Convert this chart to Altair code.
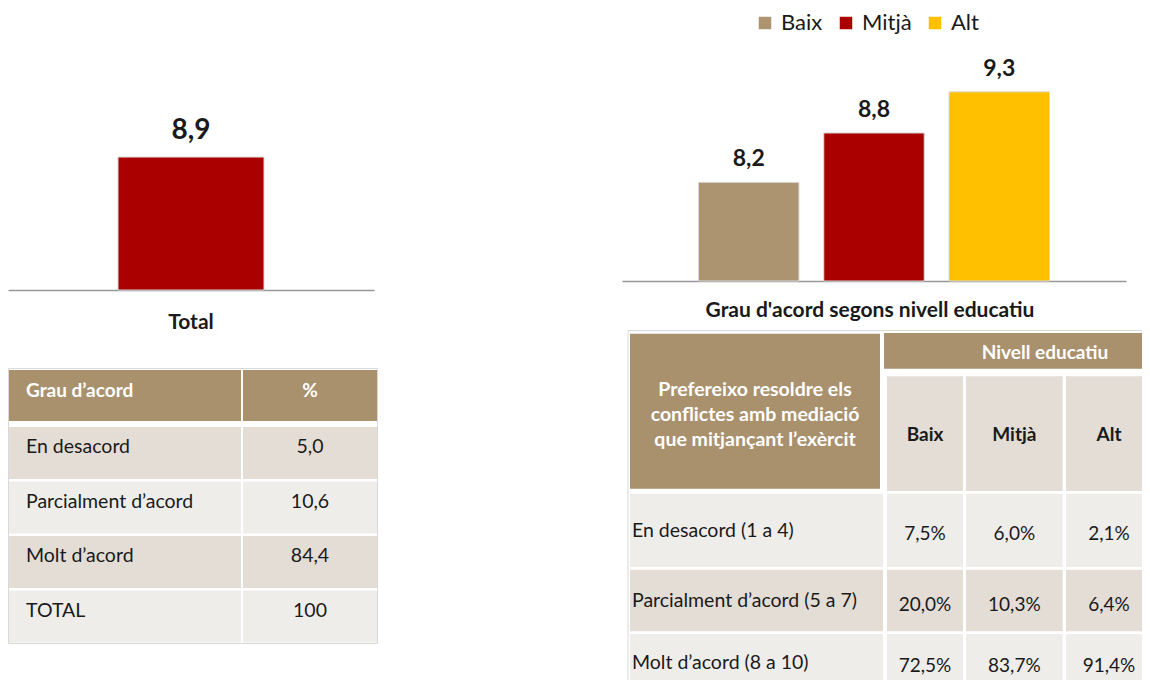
import altair as alt
import pandas as pd

FONT = "Lato"
DARK = "#1a1a1a"

# ---------------- data ----------------
total_cat = ["Total"]
total_mean = [8.9]

levels = ["Baix", "Mitjà", "Alt"]
level_mean = [8.2, 8.8, 9.3]
level_colors = ["#ac9470", "#aa0000", "#ffc000"]

agree_head = ["Grau d’acord", "%"]
agree_cats = ["En desacord", "Parcialment d’acord", "Molt d’acord", "TOTAL"]
agree_pct = [5.0, 10.6, 84.4, 100]

edu_title = "Grau d'acord segons nivell educatiu"
edu_corner = "Prefereixo resoldre els\nconflictes amb mediació\nque mitjançant l’exèrcit"
edu_group = "Nivell educatiu"
edu_rows = ["En desacord (1 a 4)", "Parcialment d’acord (5 a 7)", "Molt d’acord (8 a 10)"]
edu_baix = [7.5, 20.0, 72.5]
edu_mitja = [6.0, 10.3, 83.7]
edu_alt = [2.1, 6.4, 91.4]

# ---------------- style ----------------
BROWN = "#a9916e"
ROW_DARK = "#e3ddd6"
ROW_LIGHT = "#efedea"
BORDER = "#d9d9d9"
AXIS_GRAY = "#999999"
AXIS_MIN = 7


def fmt(v, pct=False):
    s = "100" if v == 100 else f"{v:.1f}".replace(".", ",")
    return s + ("%" if pct else "")


# ---------------- left bar chart ----------------
df_total = pd.DataFrame({"cat": total_cat, "mean": total_mean,
                         "label": [fmt(v) for v in total_mean]})
base_l = alt.Chart(df_total).encode(
    x=alt.X("cat:N", title=None,
            axis=alt.Axis(ticks=False, tickSize=0, labelAngle=0, labelFont=FONT,
                          labelFontSize=21, labelFontWeight="bold", labelColor=DARK,
                          labelPadding=21, domainColor=AXIS_GRAY, domainWidth=1.5)),
    y=alt.Y("mean:Q", scale=alt.Scale(domain=[AXIS_MIN, 11.03], nice=False, zero=False),
            axis=None),
)
bars_l = base_l.mark_bar(size=146, color="#aa0000", stroke=BORDER, strokeWidth=1).encode(
    y2=alt.datum(AXIS_MIN))
text_l = base_l.mark_text(baseline="alphabetic", dy=-18, font=FONT, fontSize=28,
                          fontWeight="bold", color=DARK).encode(text="label:N")
left_bar = alt.layer(bars_l, text_l).properties(width=366, height=282)

# ---------------- right bar chart ----------------
df_lvl = pd.DataFrame({"level": levels, "mean": level_mean,
                       "label": [fmt(v) for v in level_mean]})
base_r = alt.Chart(df_lvl).encode(
    x=alt.X("level:N", sort=levels, title=None,
            scale=alt.Scale(paddingInner=0.198, paddingOuter=0.611),
            axis=alt.Axis(labels=False, ticks=False, tickSize=0,
                          domainColor=AXIS_GRAY, domainWidth=1.5)),
    y=alt.Y("mean:Q", scale=alt.Scale(domain=[AXIS_MIN, 10.32], nice=False, zero=False),
            axis=None),
)
bars_r = base_r.mark_bar(stroke=BORDER, strokeWidth=1).encode(
    y2=alt.datum(AXIS_MIN),
    color=alt.Color("level:N", sort=levels,
                    scale=alt.Scale(domain=levels, range=level_colors),
                    legend=alt.Legend(orient="none", legendX=132, legendY=4,
                                      direction="horizontal", title=None,
                                      symbolType="square", symbolSize=156,
                                      symbolStrokeWidth=0, labelFont=FONT,
                                      labelFontSize=22, labelColor=DARK,
                                      labelOffset=5, columnPadding=12, padding=0)),
)
text_r = base_r.mark_text(baseline="alphabetic", dy=-16, font=FONT, fontSize=23,
                          fontWeight="bold", color=DARK).encode(text="label:N")
right_bar = alt.layer(bars_r, text_r).properties(width=504, height=273)


# ---------------- table helper ----------------
def table(cells, text_groups, W, H, title=None):
    xs = alt.Scale(domain=[0, W], nice=False, zero=False)
    ys = alt.Scale(domain=[0, H], nice=False, zero=False, reverse=True)
    cdf = pd.DataFrame(cells, columns=["x0", "x1", "y0", "y1", "fill"])
    layers = []
    border = cdf[cdf["fill"] == "border"]
    fills = cdf[cdf["fill"] != "border"]
    layers.append(alt.Chart(fills).mark_rect(clip=True).encode(
        x=alt.X("x0:Q", scale=xs, axis=None), x2="x1:Q",
        y=alt.Y("y0:Q", scale=ys, axis=None), y2="y1:Q",
        fill=alt.Fill("fill:N", scale=None)))
    layers.append(alt.Chart(border).mark_rect(clip=True, fillOpacity=0, stroke=BORDER,
                                              strokeWidth=1).encode(
        x=alt.X("x0:Q", scale=xs, axis=None), x2="x1:Q",
        y=alt.Y("y0:Q", scale=ys, axis=None), y2="y1:Q"))
    for rows, style in text_groups:
        tdf = pd.DataFrame(rows, columns=["x", "y", "t"])
        layers.append(alt.Chart(tdf).mark_text(font=FONT, baseline="middle", **style).encode(
            x=alt.X("x:Q", scale=xs, axis=None),
            y=alt.Y("y:Q", scale=ys, axis=None),
            text="t:N"))
    ch = alt.layer(*layers).properties(width=W, height=H)
    if title is not None:
        ch = ch.properties(title=title)
    return ch


# ---------------- left table ----------------
LW, LH = 370, 276
L_COLS = [(1, 233), (235, 369)]
L_HEAD = (2, 53)
L_ROW_TOP, L_ROW_H, L_ROW_GAP = 59, 52, 2.5
L_PAD = 17
L_DY = -6

l_cells = [(0.5, LW - 0.5, 0.5, LH - 0.5, "border")]
for c0, c1 in L_COLS:
    l_cells.append((c0, c1, L_HEAD[0], L_HEAD[1], BROWN))
l_row_y = []
for i in range(len(agree_cats)):
    y0 = L_ROW_TOP + i * (L_ROW_H + L_ROW_GAP)
    y1 = y0 + L_ROW_H
    l_row_y.append((y0 + y1) / 2)
    for c0, c1 in L_COLS:
        l_cells.append((c0, c1, y0, y1, ROW_DARK if i % 2 == 0 else ROW_LIGHT))

hy = (L_HEAD[0] + L_HEAD[1]) / 2 - 4.5
vc = (L_COLS[1][0] + L_COLS[1][1]) / 2
l_texts = [
    ([(L_COLS[0][0] + L_PAD, hy, agree_head[0])],
     dict(align="left", fontSize=19, fontWeight="bold", color="white")),
    ([(vc, hy, agree_head[1])],
     dict(align="center", fontSize=19, fontWeight="bold", color="white")),
    ([(L_COLS[0][0] + L_PAD, y + L_DY, c) for y, c in zip(l_row_y, agree_cats)],
     dict(align="left", fontSize=19.5, color=DARK)),
    ([(vc, y + L_DY, fmt(v)) for y, v in zip(l_row_y, agree_pct)],
     dict(align="center", fontSize=19.5, color=DARK)),
]
left_table = table(l_cells, l_texts, LW, LH)

# ---------------- right table ----------------
RW, RH = 520, 350
R_LABEL = (8, 260)
R_VCOLS = [(265, 341), (344, 440.7), (444, 530)]
R_CORNER = (8, 258, 3.7, 158.7)
R_GROUP = (262, 584, 3, 38.7)
R_SUB = (46.3, 161)
R_ROWS = [(163.7, 237), (239.7, 301.3), (304, 360)]
LINE_H = 25

r_cells = [(6, 560, 0.5, 420, "border"),
           (R_CORNER[0], R_CORNER[1], R_CORNER[2], R_CORNER[3], BROWN),
           (R_GROUP[0], R_GROUP[1], R_GROUP[2], R_GROUP[3], BROWN)]
for c0, c1 in R_VCOLS:
    r_cells.append((c0, c1, R_SUB[0], R_SUB[1], ROW_DARK))
for i, (y0, y1) in enumerate(R_ROWS):
    col = ROW_LIGHT if i % 2 == 0 else ROW_DARK
    r_cells.append((R_LABEL[0], R_LABEL[1] + 1, y0, y1, col))
    for c0, c1 in R_VCOLS:
        r_cells.append((c0, c1, y0, y1, col))

vcenters = [(c0 + c1) / 2 for c0, c1 in R_VCOLS]
row_c = [(y0 + y1) / 2 for y0, y1 in R_ROWS]
sub_c = (R_SUB[0] + R_SUB[1]) / 2
values = [edu_baix, edu_mitja, edu_alt]
n_lines = edu_corner.count("\n") + 1
corner_first = (R_CORNER[2] + R_CORNER[3]) / 2 + 4 - (n_lines - 1) / 2 * LINE_H
r_texts = [
    ([((R_CORNER[0] + R_CORNER[1]) / 2, corner_first, edu_corner)],
     dict(align="center", fontSize=19.5, fontWeight="bold", color="white",
          lineBreak="\n", lineHeight=LINE_H)),
    ([((R_GROUP[0] + R_GROUP[1]) / 2, (R_GROUP[2] + R_GROUP[3]) / 2 + 2.5, edu_group)],
     dict(align="center", fontSize=19, fontWeight="bold", color="white")),
    ([(x, sub_c + 1, lv) for x, lv in zip(vcenters, levels)],
     dict(align="center", fontSize=19, fontWeight="bold", color=DARK)),
    ([(R_LABEL[0] + 2, y + 0.5, r) for y, r in zip(row_c, edu_rows)],
     dict(align="left", fontSize=19.5, color=DARK)),
    ([(x, y + 4, fmt(v, pct=True)) for x, vals in zip(vcenters, values)
      for y, v in zip(row_c, vals)],
     dict(align="center", fontSize=19, color=DARK)),
]
right_table = table(r_cells, r_texts, RW, RH,
                    title=alt.TitleParams(edu_title, font=FONT, fontSize=21,
                                          fontWeight="bold", color=DARK, anchor="middle",
                                          dx=-12, offset=9))

# ---------------- assemble ----------------
left_col = alt.vconcat(left_bar, left_table, spacing=36).resolve_scale(color="independent")
right_col = alt.vconcat(right_bar, right_table, spacing=18).resolve_scale(color="independent")

chart = (
    alt.hconcat(left_col, right_col, spacing=244)
    .resolve_scale(color="independent")
    .properties(padding=0)
    .configure(font=FONT)
    .configure_view(stroke=None)
)

chart.save("out.html", embed_options={"renderer": "svg", "actions": False})
